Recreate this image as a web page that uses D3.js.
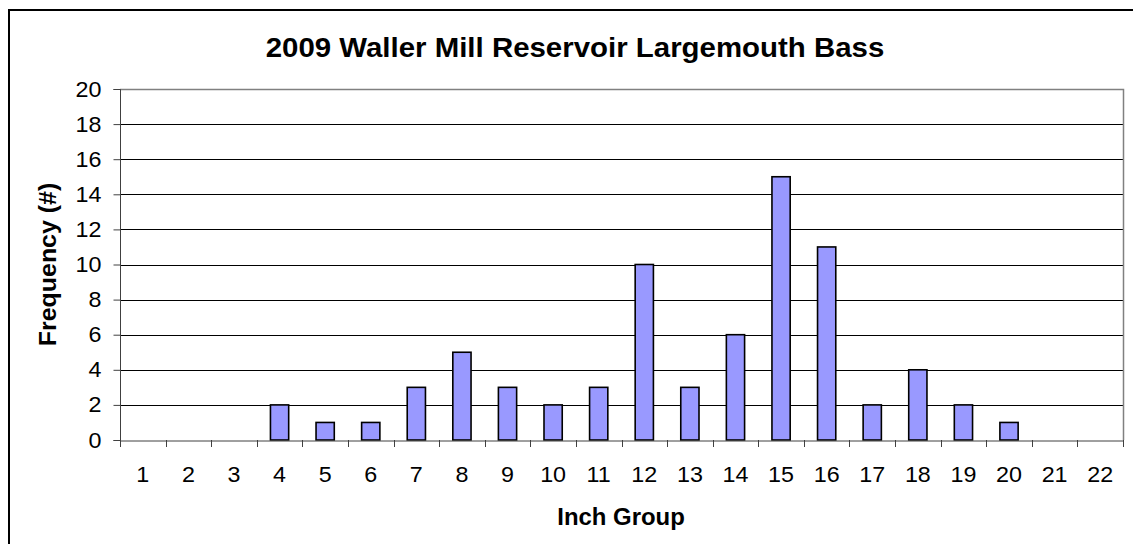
<!DOCTYPE html>
<html><head><meta charset="utf-8">
<script src="https://cdn.jsdelivr.net/npm/d3@7"></script>
<style>body{margin:0;background:#fff}svg{display:block}text{font-family:Arial,"Liberation Sans",sans-serif}</style>
</head><body>
<svg id="c" width="1133" height="544"></svg>
<script>
const categories = ["1","2","3","4","5","6","7","8","9","10","11","12","13","14","15","16","17","18","19","20","21","22"];
const frequency = [0,0,0,2,1,1,3,5,3,2,3,10,3,6,15,11,2,4,2,1,0,0];
const yTicks = [0,2,4,6,8,10,12,14,16,18,20];
const title = "2009 Waller Mill Reservoir Largemouth Bass";
const xTitle = "Inch Group";
const yTitle = "Frequency (#)";

const svg = d3.select("#c");
const L = 120, R = 1123, T = 89, B = 440;
svg.append("rect").attr("x",9).attr("y",10).attr("width",1300).attr("height",800)
  .attr("fill","#fff").attr("stroke","#000").attr("stroke-width",2);

const x = d3.scaleBand().domain(categories).range([L,R]).paddingInner(0).paddingOuter(0);
const y = d3.scaleLinear().domain([0,20]).range([B,T]);

// gridlines
svg.append("g").selectAll("line").data(yTicks.filter(d=>d>0&&d<20)).join("line")
  .attr("x1",L).attr("x2",R).attr("y1",d=>Math.round(y(d))+0.5).attr("y2",d=>Math.round(y(d))+0.5)
  .attr("stroke","#000").attr("stroke-width",1);
// plot border top/right
svg.append("path").attr("d",`M${L},${T+0.5}H${R+0.5}V${B}`).attr("fill","none").attr("stroke","#808080").attr("stroke-width",1.5);

// bars
const bw = x.bandwidth()*0.4;
svg.append("g").selectAll("rect").data(categories.map((c,i)=>({c,v:frequency[i]})).filter(d=>d.v>0)).join("rect")
  .attr("x",d=>x(d.c)+x.bandwidth()/2-bw/2).attr("width",bw)
  .attr("y",d=>y(d.v)).attr("height",d=>B-y(d.v))
  .attr("fill","#9999FF").attr("stroke","#000").attr("stroke-width",1.6);

const SX = 1.06;
// y axis
const ya = d3.axisLeft(y).tickValues(yTicks).tickSize(7).tickPadding(12).tickFormat(d3.format("d"));
const gy = svg.append("g").attr("transform",`translate(${L+0.5},0)`).call(ya);
gy.select(".domain").attr("stroke","#404040").attr("d",`M-7,${T+0.5}H0V${B+0.5}H-7`);
gy.selectAll(".tick line").attr("stroke","#404040");
gy.selectAll("text").attr("font-size",22).attr("fill","#000").style("font-family","Arial, 'Liberation Sans', sans-serif")
  .attr("transform",`translate(-19,0) scale(${SX},1) translate(19,0)`);

// x axis
const xa = d3.axisBottom(x).tickSize(0).tickPadding(26);
const gx = svg.append("g").attr("transform",`translate(0,${B+0.5})`).call(xa);
gx.select(".domain").attr("stroke","#404040");
gx.selectAll("text").attr("font-size",22).attr("fill","#000").style("font-family","Arial, 'Liberation Sans', sans-serif")
  .attr("transform",`scale(${SX},1)`);
svg.append("g").selectAll("line").data(d3.range(categories.length+1)).join("line")
  .attr("x1",i=>Math.round(L+i*x.step())+0.5).attr("x2",i=>Math.round(L+i*x.step())+0.5)
  .attr("y1",B).attr("y2",B+7).attr("stroke","#404040");

// titles
svg.append("text").attr("transform","translate(575,57) scale(1.09,1)").attr("text-anchor","middle")
  .attr("font-size",27).attr("font-weight","bold").text(title);
svg.append("text").attr("transform","translate(621,525) scale(1.04,1)").attr("text-anchor","middle")
  .attr("font-size",23).attr("font-weight","bold").text(xTitle);
svg.append("text").attr("transform",`translate(56,${(T+B)/2}) rotate(-90) scale(1.04,1)`).attr("text-anchor","middle")
  .attr("font-size",24).attr("font-weight","bold").text(yTitle);
</script>
</body></html>
